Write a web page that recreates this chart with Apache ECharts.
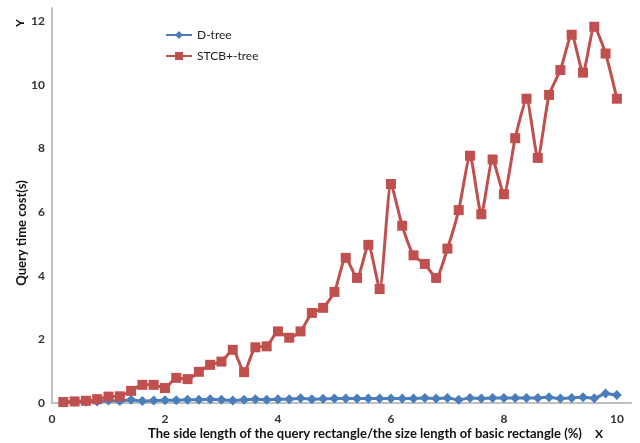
<!DOCTYPE html>
<html>
<head>
<meta charset="utf-8">
<title>Query time cost</title>
<script src="https://cdn.jsdelivr.net/npm/echarts@6/dist/echarts.min.js"></script>
<style>
  html, body { margin: 0; padding: 0; background: #ffffff; }
  #chart { width: 640px; height: 443px; }
</style>
</head>
<body>
<div id="chart"></div>
<script>
// Side length of the query rectangle (% of basic rectangle)
const sideLength = [
  0.2, 0.4, 0.6, 0.8, 1.0, 1.2, 1.4, 1.6, 1.8, 2.0,
  2.2, 2.4, 2.6, 2.8, 3.0, 3.2, 3.4, 3.6, 3.8, 4.0,
  4.2, 4.4, 4.6, 4.8, 5.0, 5.2, 5.4, 5.6, 5.8, 6.0,
  6.2, 6.4, 6.6, 6.8, 7.0, 7.2, 7.4, 7.6, 7.8, 8.0,
  8.2, 8.4, 8.6, 8.8, 9.0, 9.2, 9.4, 9.6, 9.8, 10.0
];

// Query time cost (s) for the D-tree index
const dTree = [
  0.02, 0.03, 0.04, 0.05, 0.08, 0.06, 0.10, 0.06, 0.08, 0.09,
  0.09, 0.10, 0.10, 0.12, 0.10, 0.08, 0.10, 0.12, 0.10, 0.12,
  0.12, 0.15, 0.12, 0.13, 0.14, 0.14, 0.14, 0.14, 0.14, 0.14,
  0.14, 0.14, 0.16, 0.14, 0.16, 0.10, 0.16, 0.14, 0.16, 0.16,
  0.16, 0.16, 0.16, 0.18, 0.14, 0.16, 0.18, 0.15, 0.30, 0.25
];

// Query time cost (s) for the STCB+-tree index
const stcbTree = [
  0.03, 0.05, 0.07, 0.12, 0.20, 0.21, 0.38, 0.57, 0.57, 0.47,
  0.79, 0.75, 0.98, 1.20, 1.30, 1.67, 0.97, 1.75, 1.78, 2.25,
  2.05, 2.25, 2.83, 2.99, 3.49, 4.56, 3.93, 4.97, 3.58, 6.88,
  5.57, 4.64, 4.37, 3.93, 4.85, 6.06, 7.77, 5.93, 7.65, 6.56,
  8.32, 9.56, 7.70, 9.68, 10.46, 11.57, 10.38, 11.82, 10.98, 9.56
];

const yTicks = [0, 2, 4, 6, 8, 10, 12];

const blue = '#4a7ebb';
const red = '#c0504d';
const axisGrey = '#c0c0c0';
const font = 'Lato, "Open Sans", "Liberation Sans", sans-serif';

const chart = echarts.init(document.getElementById('chart'), null, { renderer: 'canvas' });

chart.setOption({
  animation: false,
  backgroundColor: '#ffffff',
  grid: { left: 52, right: 9, top: 8, bottom: 40, containLabel: false },
  legend: {
    orient: 'vertical',
    left: 160,
    top: 24,
    itemWidth: 26,
    itemHeight: 10,
    itemGap: 9,
    textStyle: { fontFamily: font, fontSize: 12, color: '#222' },
    data: ['D-tree', 'STCB+-tree']
  },
  xAxis: {
    type: 'value',
    min: 0,
    max: 10.25,
    interval: 2,
    splitLine: { show: false },
    axisTick: { show: false },
    axisLine: { show: true, lineStyle: { color: axisGrey, width: 2 } },
    axisLabel: {
      showMaxLabel: false,
      margin: 10,
      fontFamily: font,
      fontSize: 12,
      fontWeight: 'bold',
      color: '#333'
    }
  },
  yAxis: {
    type: 'value',
    min: 0,
    max: 12.41,
    interval: 2,
    splitLine: { show: false },
    axisTick: { show: false },
    axisLine: { show: true, lineStyle: { color: axisGrey, width: 2 } },
    axisLabel: {
      showMaxLabel: false,
      margin: 7,
      fontFamily: font,
      fontSize: 12,
      fontWeight: 'bold',
      color: '#333',
      formatter: v => (yTicks.includes(v) ? String(v) : '')
    }
  },
  series: [
    {
      name: 'D-tree',
      type: 'line',
      data: sideLength.map((x, i) => [x, dTree[i]]),
      symbol: 'diamond',
      symbolSize: 10,
      smooth: 0.2,
      lineStyle: { color: blue, width: 3 },
      itemStyle: { color: blue },
      z: 2
    },
    {
      name: 'STCB+-tree',
      type: 'line',
      data: sideLength.map((x, i) => [x, stcbTree[i]]),
      symbol: 'rect',
      symbolSize: 10,
      smooth: 0.2,
      lineStyle: { color: red, width: 3 },
      itemStyle: { color: red },
      z: 3
    }
  ],
  graphic: [
    {
      type: 'text',
      x: 365,
      y: 434,
      style: {
        text: 'The side length of the query rectangle/the size length of basic rectangle (%)',
        font: 'bold 13px ' + font,
        fill: '#111',
        textAlign: 'center',
        textVerticalAlign: 'middle'
      }
    },
    {
      type: 'text',
      x: 599,
      y: 434,
      style: {
        text: 'X',
        font: 'bold 12px ' + font,
        fill: '#111',
        textAlign: 'center',
        textVerticalAlign: 'middle'
      }
    },
    {
      type: 'text',
      x: 22,
      y: 233,
      rotation: Math.PI / 2,
      style: {
        text: 'Query time cost(s)',
        font: 'bold 13px ' + font,
        fill: '#111',
        textAlign: 'center',
        textVerticalAlign: 'middle'
      }
    },
    {
      type: 'text',
      x: 20,
      y: 23,
      rotation: Math.PI / 2,
      style: {
        text: 'Y',
        font: 'bold 12px ' + font,
        fill: '#111',
        textAlign: 'center',
        textVerticalAlign: 'middle'
      }
    }
  ]
});
</script>
</body>
</html>
